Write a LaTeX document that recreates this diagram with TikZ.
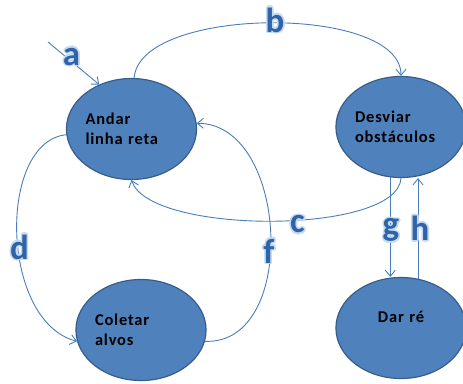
\documentclass[tikz,border=0pt]{standalone}
\usepackage{fontspec}
\setmainfont{Carlito}
\usepackage{contour}
\contourlength{1.6bp}
\contournumber{12}
\usetikzlibrary{arrows.meta,shapes.geometric}
\definecolor{statefill}{HTML}{4F81BD}
\definecolor{stateline}{HTML}{385D8A}
\definecolor{arrowblue}{HTML}{4A7EBB}
\definecolor{lettblue}{HTML}{2F64A8}
\definecolor{glowblue}{HTML}{C6DBF1}
\newcommand{\glow}[1]{\contour{glowblue}{#1}}
\tikzset{
  state/.style={ellipse, draw=stateline, fill=statefill, line width=1.2bp,
    minimum width=126bp, minimum height=101bp, inner sep=0pt,
    text width=92bp, align=left,
    font=\fontsize{16.5}{20.5}\selectfont\bfseries\addfontfeature{LetterSpace=5}},
  trans/.style={draw=arrowblue, line width=0.9bp,
    -{Straight Barb[length=6bp,width=10bp]}},
  lett/.style={inner sep=0pt, text=lettblue,
    font=\fontsize{35}{35}\selectfont\bfseries}
}
\begin{document}
\begin{tikzpicture}[x=1bp,y=-1bp]
\useasboundingbox (0,0) rectangle (463,383);
\node[state] (andar)   at (131.5,129) {Andar\\linha reta};
\node[state] (desviar) at (401,127)   {Desviar\\obstáculos};
\node[state] (coletar) at (141,330)   {Coletar\\alvos};
\node[state, align=center, text height=11bp, text depth=23bp] (dar) at (401,328) {Dar ré};
\coordinate (inicio) at (48,42);
% transicoes
\draw[trans] (inicio) -- (andar.126);
\draw[trans] (andar.87) .. controls +(5,-72) and +(0,-72) .. (desviar.north);
\draw[trans] (desviar.south) .. controls +(-3,57) and +(18,55) .. (andar.south);
\draw[trans] (andar.185) .. controls +(-69,7) and +(-77,-20) .. (coletar.190);
\draw[trans] (coletar.-10) .. controls +(94,4) and +(92,0) .. (andar.5);
\draw[trans] (desviar.258) -- (desviar.258 |- dar.north);
\draw[trans] (dar.71) -- (dar.71 |- desviar.south);
% rotulos
\node[lett] (la) at (71.5,57.5) {\glow{a}};
\node[lett] (lb) at (275,21)    {\glow{b}};
\node[lett] (lc) at (297.5,225) {\glow{c}};
\node[lett] (ld) at (19.5,248)  {\glow{d}};
\node[lett] (lf) at (269,252)   {\glow{f}};
\node[lett] (lg) at (391,231)   {\glow{g}};
\node[lett] (lh) at (420,229)   {\glow{h}};
\end{tikzpicture}
\end{document}
